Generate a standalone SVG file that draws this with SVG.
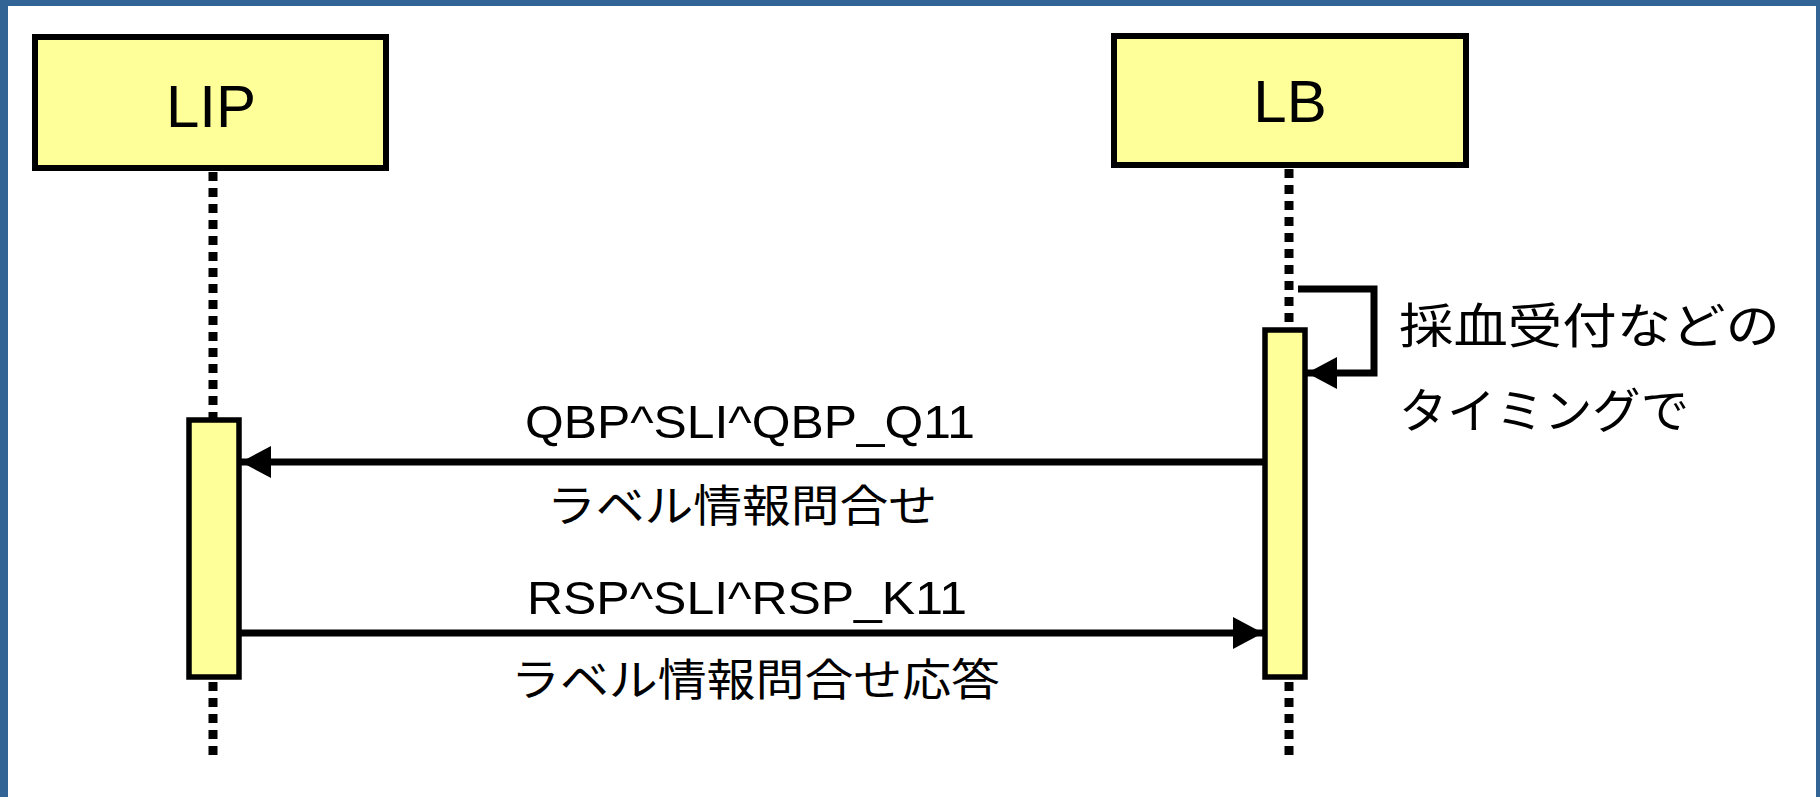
<svg xmlns="http://www.w3.org/2000/svg" width="1820" height="797" viewBox="0 0 1820 797">
<style>
.box{fill:#FFFF99;stroke:#000;stroke-width:6}
.act{fill:#FFFF99;stroke:#000;stroke-width:5.5}
.life{stroke:#000;stroke-width:9;stroke-dasharray:9 7;fill:none}
.msg{stroke:#000;stroke-width:7;fill:none}
.t{font-family:"Liberation Sans","Noto Sans CJK JP",sans-serif;fill:#000}
.jp{font-family:"Noto Sans CJK JP","Liberation Sans",sans-serif;fill:#000}
</style>
<defs>
<marker id="ah" viewBox="0 0 30 32" markerUnits="userSpaceOnUse" markerWidth="30" markerHeight="32" refX="30" refY="16" orient="auto">
<path d="M0,0 L30,16 L0,32 z" fill="#000"/>
</marker>
</defs>
<rect x="0" y="0" width="1820" height="797" fill="#fff"/>
<rect x="0" y="0" width="1820" height="6" fill="#326496"/>
<rect x="0" y="0" width="8" height="797" fill="#326496"/>
<rect x="1816" y="0" width="4" height="797" fill="#326496"/>

<g id="lifelines">
<line class="life" x1="213" y1="172" x2="213" y2="418"/>
<line class="life" x1="213" y1="682" x2="213" y2="761"/>
<line class="life" x1="1289" y1="169" x2="1289" y2="328"/>
<line class="life" x1="1289" y1="682" x2="1289" y2="761"/>
</g>

<g id="LIP">
<rect class="box" x="35" y="37" width="351" height="131"/>
<text class="t" x="211" y="127" font-size="60" text-anchor="middle">LIP</text>
</g>
<g id="LB">
<rect class="box" x="1114" y="36" width="352" height="129"/>
<text class="t" x="1290" y="122" font-size="60" text-anchor="middle">LB</text>
</g>

<g id="LIP-activation">
<rect class="act" x="189" y="420" width="50" height="257"/>
</g>
<g id="LB-activation">
<rect class="act" x="1265" y="330" width="40" height="347"/>
</g>

<g id="connectors">
<path class="msg" d="M1298,289 H1374 V373 H1307" marker-end="url(#ah)"/>
<line class="msg" x1="1263" y1="462" x2="241" y2="462" marker-end="url(#ah)"/>
<line class="msg" x1="241" y1="633" x2="1263" y2="633" marker-end="url(#ah)"/>
</g>

<g id="labels">
<text class="jp" x="1399" y="343" font-size="48" textLength="381" lengthAdjust="spacingAndGlyphs">採血受付などの</text>
<text class="jp" x="1399" y="428" font-size="48" textLength="290" lengthAdjust="spacingAndGlyphs">タイミングで</text>
<text class="t" x="525" y="438" font-size="47" textLength="450" lengthAdjust="spacingAndGlyphs">QBP^SLI^QBP_Q11</text>
<text class="jp" x="547" y="522" font-size="44" textLength="390" lengthAdjust="spacingAndGlyphs">ラベル情報問合せ</text>
<text class="t" x="527" y="614" font-size="47" textLength="440" lengthAdjust="spacingAndGlyphs">RSP^SLI^RSP_K11</text>
<text class="jp" x="511" y="696" font-size="44" textLength="489" lengthAdjust="spacingAndGlyphs">ラベル情報問合せ応答</text>
</g>
</svg>
